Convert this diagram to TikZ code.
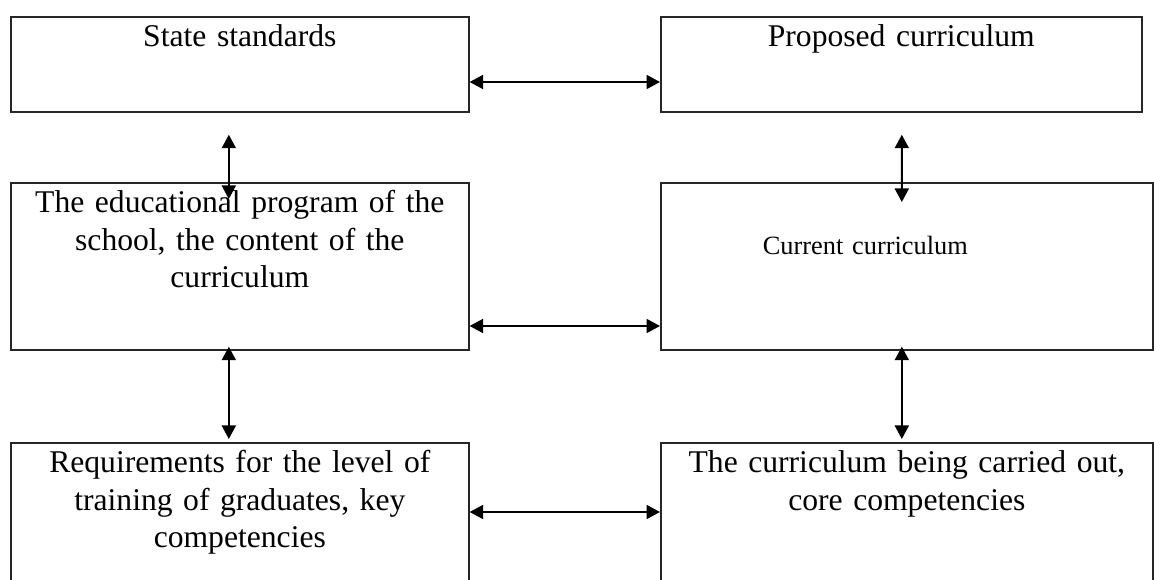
\documentclass[tikz,border=0pt]{standalone}
\usepackage{fontspec}
\setmainfont{Liberation Serif}
\usetikzlibrary{arrows.meta}

\begin{document}
\begin{tikzpicture}[x=0.02cm, y=-0.02cm]
        \tikzstyle{box} = [rectangle, draw=black!85, line width=0.035cm, anchor=north west, inner sep=0pt, align=center, text height=0.6cm, font=\fontsize{18}{21.3}\selectfont]
        \tikzstyle{arrow} = [line width=0.04cm, {Triangle[length=0.27cm,width=0.28cm]}-{Triangle[length=0.27cm,width=0.28cm]}]

        \useasboundingbox (0,0) rectangle (1154,580);
        \clip (0,0) rectangle (1154,580);

        % Boxes
        \node (state) [box, text width=9.16cm, text depth=1.3cm] at (10,16) {State standards};
        \node (proposed) [box, text width=9.62cm, text depth=1.3cm] at (660,16) {Proposed curriculum};
        \node (program) [box, text width=9.16cm, text depth=2.74cm] at (10,182) {The educational program of the\\ school, the content of the\\ curriculum};
        \node (current) [box, text width=9.84cm, text height=1.44cm, text depth=1.9cm, align=left, font=\fontsize{15}{18}\selectfont] at (660,182) {\hspace*{2.04cm}Current curriculum};
        \node (req) [box, text width=9.16cm, text depth=2.8cm] at (10,442) {Requirements for the level of\\ training of graduates, key\\ competencies};
        \node (carried) [box, text width=9.84cm, text depth=2.8cm] at (660,442) {The curriculum being carried out,\\ core competencies};

        % Arrows
        \draw [arrow] ([shift={(0,66)}]state.north east) -- ([shift={(0,66)}]proposed.north west);
        \draw [arrow] ([shift={(0,144)}]program.north east) -- ([shift={(0,144)}]current.north west);
        \draw [arrow] ([shift={(0,70)}]req.north east) -- ([shift={(0,70)}]carried.north west);

        \draw [arrow] ([shift={(-11,22)}]state.south) -- ([shift={(-11,17)}]program.north);
        \draw [arrow] ([shift={(-11,-4)}]program.south) -- ([shift={(-11,-3)}]req.north);
        \draw [arrow] ([shift={(0.5,22)}]proposed.south) -- ([shift={(-5,20)}]current.north);
        \draw [arrow] ([shift={(-5,-4)}]current.south) -- ([shift={(-5,-3)}]carried.north);
\end{tikzpicture}
\end{document}
